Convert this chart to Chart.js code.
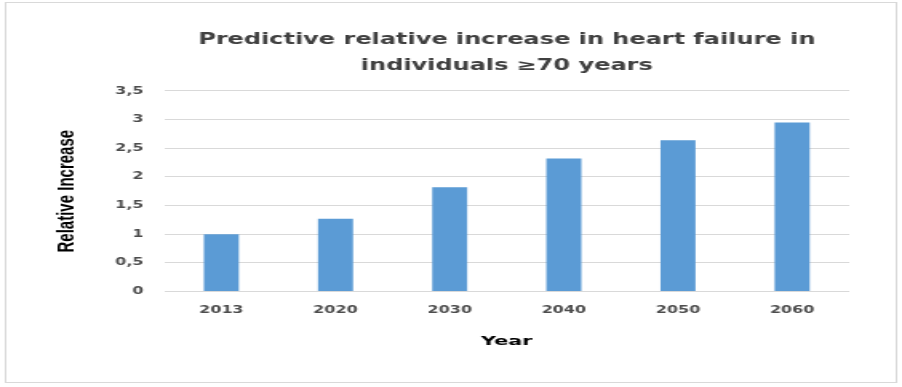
<!DOCTYPE html>
<html>
<head>
<meta charset="utf-8">
<script src="https://cdn.jsdelivr.net/npm/chart.js@4"></script>
<style>
  html, body { margin: 0; padding: 0; background: #ffffff; }
  /* the reference is a horizontally stretched picture, so the canvas is drawn
     narrow and stretched to the full width */
  #hf { display: block; width: 902px !important; height: 387px !important; }
</style>
</head>
<body>
<canvas id="hf" width="564" height="387"></canvas>
<script>
// data
const years = ["2013", "2020", "2030", "2040", "2050", "2060"];
const relativeIncrease = [1.0, 1.27, 1.82, 2.32, 2.64, 2.95];
const yTicks = [0, 0.5, 1, 1.5, 2, 2.5, 3, 3.5];

// white background and light frame around the whole chart
const frame = {
    id: "frame",
    beforeDraw(chart) {
        const ctx = chart.ctx;
        ctx.save();
        ctx.fillStyle = "#ffffff";
        ctx.fillRect(0, 0, chart.width, chart.height);
        ctx.strokeStyle = "#d9d9d9";
        ctx.lineWidth = 1;
        ctx.strokeRect(3.5, 2.5, 557, 380);
        ctx.restore();
    },
};

new Chart(document.getElementById("hf"), {
    type: "bar",
    data: {
        labels: years,
        datasets: [
            {
                label: "Relative Increase",
                data: relativeIncrease,
                backgroundColor: "#5b9bd5",
                barPercentage: 0.307,
                categoryPercentage: 1,
            },
        ],
    },
    options: {
        responsive: false,
        animation: false,
        layout: { padding: { left: 33, right: 33, top: 15, bottom: 38 } },
        plugins: {
            legend: { display: false },
            tooltip: { enabled: false },
            title: {
                display: true,
                fullSize: false,
                text: [
                    "Predictive relative increase in heart failure in",
                    "individuals \u226570 years",
                ],
                color: "#404040",
                font: { family: "DejaVu Sans", size: 15, weight: "bold", lineHeight: 1.733 },
                padding: { top: 12, bottom: 12 },
            },
        },
        scales: {
            x: {
                grid: { display: false, drawTicks: false },
                border: { display: false },
                ticks: {
                    color: "#4d4d4d",
                    font: { family: "DejaVu Sans", size: 10, weight: "bold" },
                    padding: 13,
                },
                title: {
                    display: true,
                    text: "Year",
                    color: "#000000",
                    font: { family: "DejaVu Sans", size: 13, weight: "bold" },
                    padding: { top: 4, bottom: 0 },
                },
            },
            y: {
                min: 0,
                max: 3.5,
                afterBuildTicks: (axis) => {
                    axis.ticks = yTicks.map((v) => ({ value: v }));
                },
                grid: { color: "#d9d9d9", drawTicks: false },
                border: { display: false },
                ticks: {
                    color: "#4d4d4d",
                    font: { family: "DejaVu Sans", size: 10, weight: "bold" },
                    padding: 13,
                    callback: (v) => String(v).replace(".", ","),
                },
                title: {
                    display: true,
                    text: "Relative Increase",
                    color: "#000000",
                    font: { family: "Liberation Sans", size: 15, weight: "bold" },
                    padding: { top: 0, bottom: 8 },
                },
            },
        },
    },
    plugins: [frame],
});
</script>
</body>
</html>
